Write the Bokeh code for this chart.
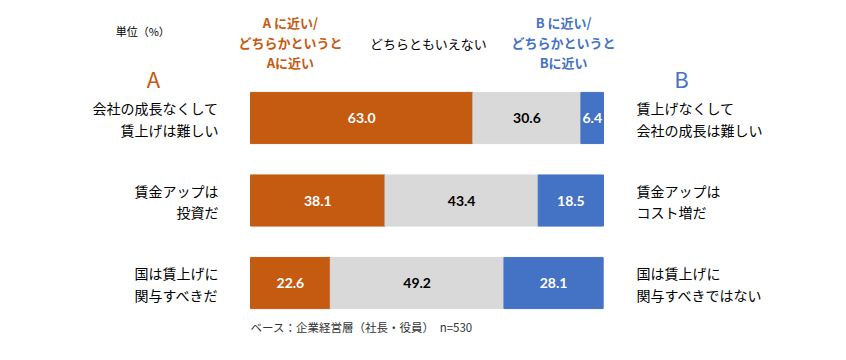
from bokeh.plotting import figure
from bokeh.models import ColumnDataSource, Range1d, Label
from bokeh.core.properties import value
from bokeh.embed import file_html
from bokeh.resources import INLINE

# ---- data ----
a_labels = ["会社の成長なくして\n賃上げは難しい", "賃金アップは\n投資だ", "国は賃上げに\n関与すべきだ"]
b_labels = ["賃上げなくして\n会社の成長は難しい", "賃金アップは\nコスト増だ", "国は賃上げに\n関与すべきではない"]
near_a = [63.0, 38.1, 22.6]
neutral = [30.6, 43.4, 49.2]
near_b = [6.4, 18.5, 28.1]
header_a = "A に近い/\nどちらかというと\nAに近い"
header_n = "どちらともいえない"
header_b = "B に近い/\nどちらかというと\nBに近い"
unit_text = "単位（%）"
footer_text = "ベース：企業経営層（社長・役員）　n=530"

ORANGE = "#C55A11"
GRAY = "#D9D9D9"
BLUE = "#4472C4"
JP = "Noto Sans CJK JP"

rows = list(range(len(a_labels)))
a_end = near_a
n_end = [a + n for a, n in zip(near_a, neutral)]
b_end = [e + b for e, b in zip(n_end, near_b)]

src = ColumnDataSource(dict(
    y=rows, a_end=a_end, n_end=n_end, b_end=b_end, zero=[0] * len(rows),
    a_mid=[v / 2 for v in near_a],
    n_mid=[(a + e) / 2 for a, e in zip(a_end, n_end)],
    b_mid=[(n + e) / 2 for n, e in zip(n_end, b_end)],
    a_txt=[f"{v:.1f}" for v in near_a],
    n_txt=[f"{v:.1f}" for v in neutral],
    b_txt=[f"{v:.1f}" for v in near_b],
    a_lab=a_labels, b_lab=b_labels,
))

p = figure(width=830, height=344, output_backend="svg", toolbar_location=None,
           x_range=Range1d(-70.82, 164.3), y_range=Range1d(2.745, -1.424),
           x_axis_location=None, y_axis_location=None, min_border=0)
p.outline_line_color = None
p.xgrid.visible = False
p.ygrid.visible = False
p.background_fill_color = "white"

H = 0.62
p.hbar(y="y", left="zero", right="a_end", height=H, color=ORANGE, source=src)
p.hbar(y="y", left="a_end", right="n_end", height=H, color=GRAY, source=src)
p.hbar(y="y", left="n_end", right="b_end", height=H, color=BLUE, source=src)

vfont = value("Lato")
for xcol, tcol, col in [("a_mid", "a_txt", "white"), ("n_mid", "n_txt", "black"), ("b_mid", "b_txt", "white")]:
    p.text(x=xcol, y="y", text=tcol, source=src, text_color=col, text_font=vfont,
           text_font_style="bold", text_font_size="14px", text_align="center", text_baseline="middle")

# category labels
p.text(x=-9.07, y="y", text="a_lab", source=src, text_color="black", text_font=value(JP),
       text_font_size="14px", text_align="right", text_baseline="middle", text_line_height=1.08,
       y_offset=1)
p.text(x=109.35, y="y", text="b_lab", source=src, text_color="black", text_font=value(JP),
       text_font_size="14px", text_align="left", text_baseline="middle", text_line_height=1.08,
       y_offset=1)

def lab(x, y, text, color, size, bold=False, align="center"):
    p.add_layout(Label(x=x, y=y, text=text, text_color=color, text_font=JP,
                       text_font_size=size, text_font_style="bold" if bold else "normal",
                       text_align=align, text_baseline="middle", text_line_height=1.05))

lab(-27.5, -0.479, "A", ORANGE, "22px")
lab(122.1, -0.479, "B", BLUE, "22px")
lab(11.3, -0.91, header_a, ORANGE, "13px", bold=True)
lab(50.4, -0.903, header_n, "black", "13px")
lab(88.7, -0.91, header_b, BLUE, "13px", bold=True)
lab(-38.2, -1.06, unit_text, "black", "11px", align="left")
lab(0, 2.527, footer_text, "#333333", "11.5px", align="left")

open("out.html", "w").write(file_html(p, INLINE))
